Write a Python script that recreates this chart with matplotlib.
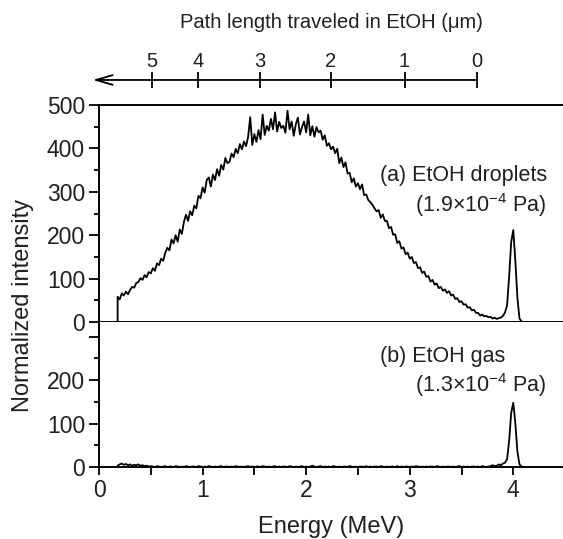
import numpy as np
import matplotlib
matplotlib.use("Agg")
import matplotlib.pyplot as plt
from matplotlib.ticker import MultipleLocator

plt.rcParams['font.family'] = ['Liberation Sans', 'DejaVu Sans']
plt.rcParams['mathtext.fontset'] = 'custom'
plt.rcParams['mathtext.rm'] = 'Liberation Sans'
plt.rcParams['mathtext.it'] = 'Liberation Sans'

TXT = '#231f20'

# (a) EtOH droplets, channels every 0.02 MeV starting at 0.18 MeV
droplets = [
    58, 52, 66, 61, 70, 64, 74, 81, 79, 90,
    92, 101, 97, 108, 103, 115, 112, 124, 118, 135,
    131, 146, 141, 160, 171, 165, 190, 181, 200, 185,
    213, 203, 231, 247, 233, 255, 246, 268, 262, 291,
    285, 310, 298, 327, 333, 312, 340, 327, 352, 337,
    362, 351, 378, 366, 369, 388, 380, 399, 389, 410,
    398, 416, 405, 427, 472, 408, 433, 415, 442, 421,
    478, 431, 452, 441, 468, 444, 483, 439, 461, 447,
    452, 436, 487, 444, 462, 429, 455, 471, 432, 449,
    462, 437, 478, 430, 451, 427, 449, 437, 441, 420,
    430, 406, 412, 398, 404, 389, 399, 366, 379, 357,
    368, 342, 344, 322, 331, 312, 320, 306, 317, 292,
    294, 281, 276, 270, 262, 255, 258, 240, 248, 233,
    233, 216, 219, 201, 202, 182, 186, 169, 172, 156,
    160, 146, 150, 136, 138, 124, 126, 113, 116, 104,
    106, 93, 97, 86, 89, 78, 81, 72, 75, 67,
    71, 61, 63, 53, 55, 46, 48, 40, 41, 33,
    34, 27, 28, 21, 21, 15, 17, 13, 14, 11,
    12, 8, 10, 7, 9, 10, 14, 22, 38, 105,
    185, 212, 140, 55, 8, 1, 0,
]

# (b) EtOH gas, same channels
gas = [
    3, 6, 8, 5, 7, 4, 6, 3, 5, 4,
    6, 3, 4, 2, 3, 1, 2, 1, 0, 2,
    1, 0, 1, 2, 0, 1, 1, 0, 2, 1,
    0, 1, 0, 2, 1, 0, 1, 1, 0, 2,
    1, 0, 1, 0, 2, 1, 0, 1, 0, 1,
    2, 0, 1, 1, 0, 1, 0, 2, 1, 0,
    1, 0, 1, 2, 0, 1, 0, 1, 1, 0,
    2, 1, 0, 1, 0, 1, 2, 0, 1, 0,
    1, 1, 0, 2, 1, 0, 1, 0, 1, 2,
    0, 1, 0, 1, 3, 1, 0, 1, 2, 0,
    1, 0, 1, 0, 2, 1, 0, 1, 0, 1,
    1, 0, 2, 1, 0, 1, 0, 1, 1, 0,
    2, 0, 1, 0, 1, 1, 0, 2, 1, 0,
    1, 0, 1, 1, 0, 2, 0, 1, 0, 1,
    1, 0, 1, 0, 2, 1, 0, 1, 0, 1,
    0, 1, 1, 0, 2, 1, 0, 1, 0, 1,
    1, 0, 1, 0, 1, 2, 0, 1, 0, 1,
    0, 1, 1, 0, 1, 0, 2, 1, 0, 1,
    2, 4, 2, 3, 6, 4, 8, 10, 18, 60,
    125, 148, 100, 35, 6, 1, 0,
]

e_start = 0.18
e_step = 0.02

# path length scale (um) and where it sits on the energy axis
path_um = [5, 4, 3, 2, 1, 0]
path_energy = [0.51, 0.96, 1.55, 2.24, 2.95, 3.65]

W, H = 563, 539
fig = plt.figure(figsize=(W / 100, H / 100), dpi=100)

left = 99 / W
ax_a = fig.add_axes([left, 1 - 322 / H, 1 - left, (322 - 105) / H])
ax_b = fig.add_axes([left, 1 - 467 / H, 1 - left, (467 - 322) / H], sharex=ax_a)

def channels(vals):
    e = e_start + e_step * np.arange(len(vals))
    return np.r_[e_start, e], np.r_[0, vals]

xa, ya = channels(droplets)
xb, yb = channels(gas)
ax_a.plot(xa, ya, color='black', lw=1.3)
ax_b.plot(xb, yb, color='black', lw=1.3)

for ax in (ax_a, ax_b):
    ax.set_xlim(0, 4.48)
    ax.spines['right'].set_visible(False)
    for s in ax.spines.values():
        s.set_linewidth(1.4)
    ax.xaxis.set_major_locator(MultipleLocator(1))
    ax.xaxis.set_minor_locator(MultipleLocator(0.5))
    ax.yaxis.set_major_locator(MultipleLocator(100))
    ax.yaxis.set_minor_locator(MultipleLocator(50))
    ax.tick_params(axis='x', which='both', direction='out', length=5.5, width=1.3,
                   labelsize=16.5, pad=3, colors='black', labelcolor=TXT)
    ax.tick_params(axis='y', which='major', direction='out', length=7, width=1.3,
                   labelsize=16.5, pad=3, labelcolor=TXT)
    ax.tick_params(axis='y', which='minor', direction='out', length=3.5, width=1.3)

ax_a.set_ylim(0, 500)
ax_a.tick_params(axis='x', labelbottom=False)
ax_b.set_ylim(0, 334)
ax_b.spines['top'].set_visible(False)
ax_b.set_yticks([0, 100, 200, 300])
ax_b.set_yticklabels(['0', '100', '200', ''])

ax_b.set_xlabel('Energy (MeV)', fontsize=17, color=TXT, labelpad=10)
fig.text(23 / W, 1 - 305 / H, 'Normalized intensity', rotation=90,
         ha='center', va='center', fontsize=17, color=TXT)

ax_a.text(2.715, 337, '(a) EtOH droplets', fontsize=15.5, color=TXT, va='center')
ax_a.text(3.05, 270, '(1.9×10$^{-4}$ Pa)', fontsize=15.5, color=TXT, va='center')
ax_b.text(2.715, 254, '(b) EtOH gas', fontsize=15.5, color=TXT, va='center')
ax_b.text(3.05, 189, '(1.3×10$^{-4}$ Pa)', fontsize=15.5, color=TXT, va='center')

# path length scale on top
ax_p = fig.add_axes([left, 1 - 80 / H, 1 - left, 0.0001])
ax_p.set_xlim(ax_a.get_xlim())
ax_p.set_ylim(-1, 1)
for s in ax_p.spines.values():
    s.set_visible(False)
ax_p.set_yticks([])
ax_p.xaxis.tick_top()
ax_p.xaxis.set_label_position('top')
ax_p.set_xticks(path_energy)
ax_p.set_xticklabels([str(v) for v in path_um])
ax_p.tick_params(axis='x', direction='inout', length=11, width=1.3,
                 labelsize=14.5, pad=1, labelcolor=TXT)
ax_p.set_xlabel('Path length traveled in EtOH (μm)', fontsize=14.5, color=TXT, labelpad=17)
ax_p.annotate('', xy=(-0.06, 0), xytext=(path_energy[-1], 0),
              arrowprops=dict(arrowstyle='->,head_length=1.2,head_width=0.35',
                              lw=1.3, color='black', shrinkA=0, shrinkB=0),
              annotation_clip=False)

fig.savefig('out.png', dpi=100)
